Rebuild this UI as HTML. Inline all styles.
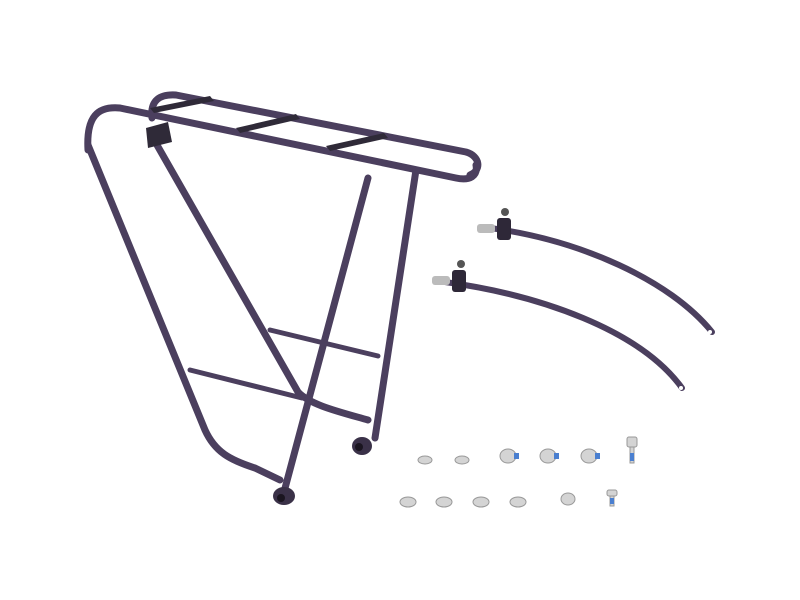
<!DOCTYPE html>
<html><head><meta charset="utf-8"><style>
html,body{margin:0;padding:0;background:#fff;width:800px;height:600px;overflow:hidden}
</style></head><body>
<svg width="800" height="600" viewBox="0 0 800 600" xmlns="http://www.w3.org/2000/svg">
<g fill="none" stroke="#4b3f5e" stroke-linecap="round" stroke-linejoin="round">
<!-- far rail -->
<path d="M152,118 C150,100 160,94 176,95 L466,152 C480,156 482,170 470,175" stroke-width="7"/>
<!-- near rail -->
<path d="M88,150 C86,116 98,106 120,108 L456,178 C470,181 478,176 476,165" stroke-width="7"/>
<!-- big left tube -->
<path d="M88,145 L205,430 C215,452 230,460 255,468 L280,480" stroke-width="7"/>
<!-- diagonal strut -->
<path d="M153,138 L298,392 C310,405 340,412 368,420" stroke-width="7"/>
<!-- leg 1 -->
<path d="M368,178 L284,492" stroke-width="7"/>
<!-- leg 2 -->
<path d="M416,170 L375,438" stroke-width="7"/>
<!-- cross bars -->
<path d="M190,370 L302,398" stroke-width="5"/>
<path d="M270,330 L378,356" stroke-width="5"/>
<!-- stays -->
<path d="M490,228 C580,240 670,280 712,332" stroke-width="6"/>
<path d="M445,282 C540,295 640,330 682,388" stroke-width="6"/>
</g>
<!-- platform slats -->
<g fill="#2f2a38">
<polygon points="150,108 210,96 214,101 154,113"/>
<polygon points="236,128 296,114 300,119 240,133"/>
<polygon points="326,146 384,133 388,138 330,151"/>
<polygon points="146,128 168,122 172,142 148,148"/>
</g>
<!-- feet -->
<g fill="#3a3148">
<ellipse cx="284" cy="496" rx="11" ry="9"/>
<ellipse cx="362" cy="446" rx="10" ry="9"/>
</g>
<g fill="#1a1520"><circle cx="281" cy="498" r="4"/><circle cx="359" cy="447" r="4"/></g>
<!-- stay heads -->
<g>
<rect x="477" y="224" width="18" height="9" rx="3" fill="#bbb"/>
<rect x="497" y="218" width="14" height="22" rx="3" fill="#2e2838"/>
<circle cx="505" cy="212" r="4" fill="#555"/>
<rect x="432" y="276" width="18" height="9" rx="3" fill="#bbb"/>
<rect x="452" y="270" width="14" height="22" rx="3" fill="#2e2838"/>
<circle cx="461" cy="264" r="4" fill="#555"/>
<circle cx="710" cy="332" r="2" fill="#fff"/>
<circle cx="681" cy="388" r="2" fill="#fff"/>
</g>
<!-- hardware -->
<g fill="#d4d4d4" stroke="#999" stroke-width="1">
<ellipse cx="425" cy="460" rx="7" ry="4"/><ellipse cx="462" cy="460" rx="7" ry="4"/>
<ellipse cx="408" cy="502" rx="8" ry="5"/><ellipse cx="444" cy="502" rx="8" ry="5"/>
<ellipse cx="481" cy="502" rx="8" ry="5"/><ellipse cx="518" cy="502" rx="8" ry="5"/>
<ellipse cx="508" cy="456" rx="8" ry="7"/><ellipse cx="548" cy="456" rx="8" ry="7"/>
<ellipse cx="589" cy="456" rx="8" ry="7"/>
<ellipse cx="568" cy="499" rx="7" ry="6"/>
<rect x="627" y="437" width="10" height="10" rx="2"/>
<rect x="630" y="447" width="4" height="16"/>
<rect x="607" y="490" width="10" height="6" rx="2"/>
<rect x="610" y="496" width="4" height="10"/>
</g>
<g fill="#4a7fd0"><rect x="514" y="453" width="5" height="6"/><rect x="554" y="453" width="5" height="6"/><rect x="595" y="453" width="5" height="6"/><rect x="630" y="453" width="4" height="8"/><rect x="610" y="498" width="4" height="6"/></g>
</svg>
</body></html>
